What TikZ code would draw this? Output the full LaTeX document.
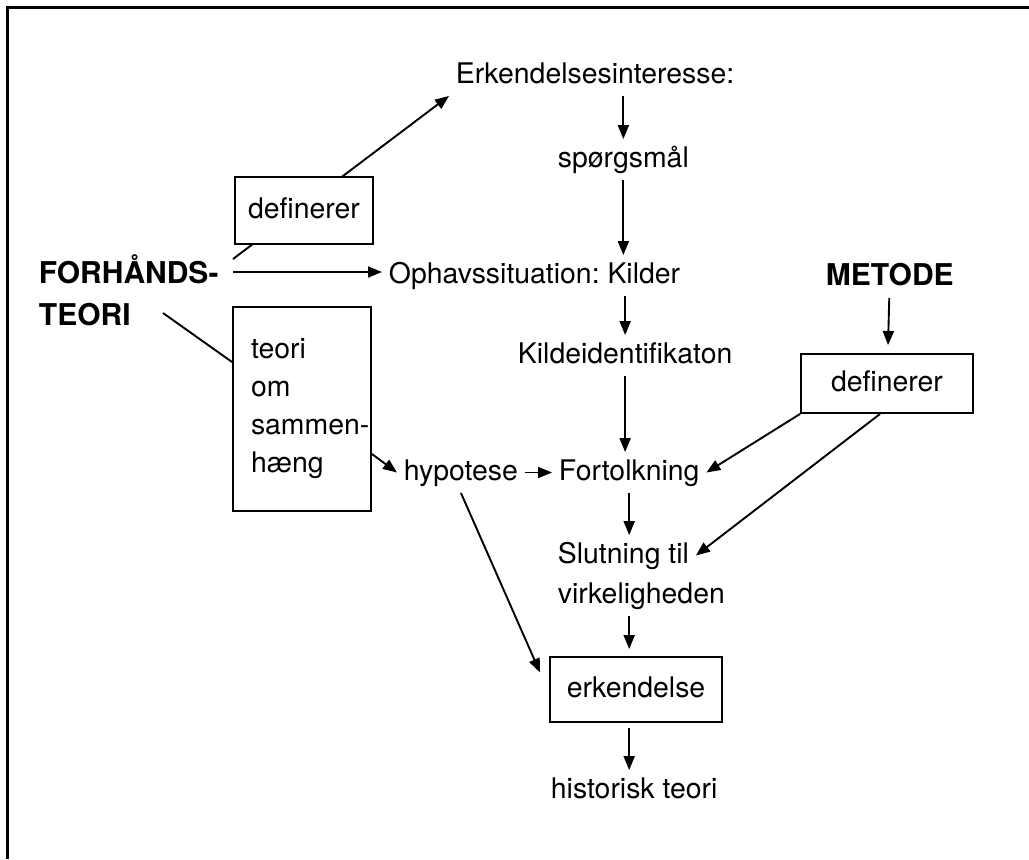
\documentclass[tikz,border=0pt]{standalone}
\usepackage{fontspec}
\setmainfont{TeX Gyre Heros}
\frenchspacing
\usetikzlibrary{arrows.meta,calc}
\begin{document}
\begin{tikzpicture}[x=0.5pt,y=-0.5pt,line width=0.95pt,
  txt/.style={font=\fontsize{14.2}{17}\selectfont,inner sep=3pt,text height=10.5pt,text depth=3pt,anchor=base west},
  hoved/.style={txt,font=\fontsize{15}{21}\selectfont\bfseries},
  kasse/.style={txt,anchor=center,draw,fill=white},
  pil/.style={-{Triangle[length=7pt,width=5.5pt]}}]
\useasboundingbox (0,0) rectangle (1029,859);
% ramme
\draw[line width=1.5pt] (7.5,859) -- (7.5,7.5) -- (1029,7.5);
% midterste kolonne
\node[txt] (erk) at (449,83) {Erkendelsesinteresse:};
\node[txt] (spm) at (551,167) {spørgsmål};
\node[txt] (ophav) at (382,283) {Ophavssituation: Kilder};
\node[txt] (kilde) at (511,363) {Kildeidentifikaton};
\node[txt] (hyp) at (397,480) {hypotese};
\node[txt] (fort) at (552,480) {Fortolkning};
\node[txt] (slut) at (551,563) {Slutning til};
\node[txt] (virk) at (551,603) {virkeligheden};
\node[kasse,minimum width=86pt,minimum height=32.5pt] (erkbox) at (636,689.5) {erkendelse};
\node[txt] (hist) at (544,798) {historisk teori};
% venstre side
\node[font=\fontsize{15}{21}\selectfont\bfseries,inner sep=3pt,align=left,anchor=base west] (forh) at (32,325) {FORHÅNDS-\\TEORI};
\coordinate (fa) at (233,259);
\coordinate (fb) at (233,272);
\coordinate (fc) at (163,313);
\draw[pil] (fa) -- (erk.south west);
\node[kasse,minimum width=69pt,minimum height=33.5pt] (defl) at (304,210.5) {definerer};
\draw[pil] (fb) -- (fb -| ophav.west);
\node[draw,font=\fontsize{14.2}{19}\selectfont,align=left,text width=51pt,inner xsep=9pt,minimum height=102pt] (teori) at (302,409) {teori\\om\\\mbox{sammen-}\\hæng};
\draw (fc) -- ($(teori.west)+(0,-47)$);
\draw[pil] ($(teori.east)+(0,45)$) -- (hyp.west);
% højre side
\node[hoved] (met) at (819,285) {METODE};
\node[kasse,minimum width=86pt,minimum height=29.5pt] (defr) at (887,383.5) {definerer};
\draw[pil,shorten >=4pt] (met) -- (defr);
\draw[pil] (defr.south west) -- (fort.east);
\draw[pil] ($(defr.south)+(-7,0)$) -- (slut.east);
% pile
\draw[pil] (erk.south -| spm) -- (spm);
\draw[pil] (spm) -- (ophav.north -| spm);
\draw[pil] (ophav.south -| kilde) -- (kilde);
\draw[pil] (kilde) -- (kilde |- fort.north);
\draw[pil] (hyp) -- (fort);
\draw[pil] (fort) -- (fort |- slut.north);
\draw[pil,shorten >=3.5pt] (virk.south -| fort) -- (erkbox.north -| fort);
\draw[pil,shorten <=2.5pt] (erkbox.south -| fort) -- (hist.north -| fort);
\draw[pil] (hyp.south) -- ($(erkbox.west)+(-9,-17)$);
\end{tikzpicture}
\end{document}
